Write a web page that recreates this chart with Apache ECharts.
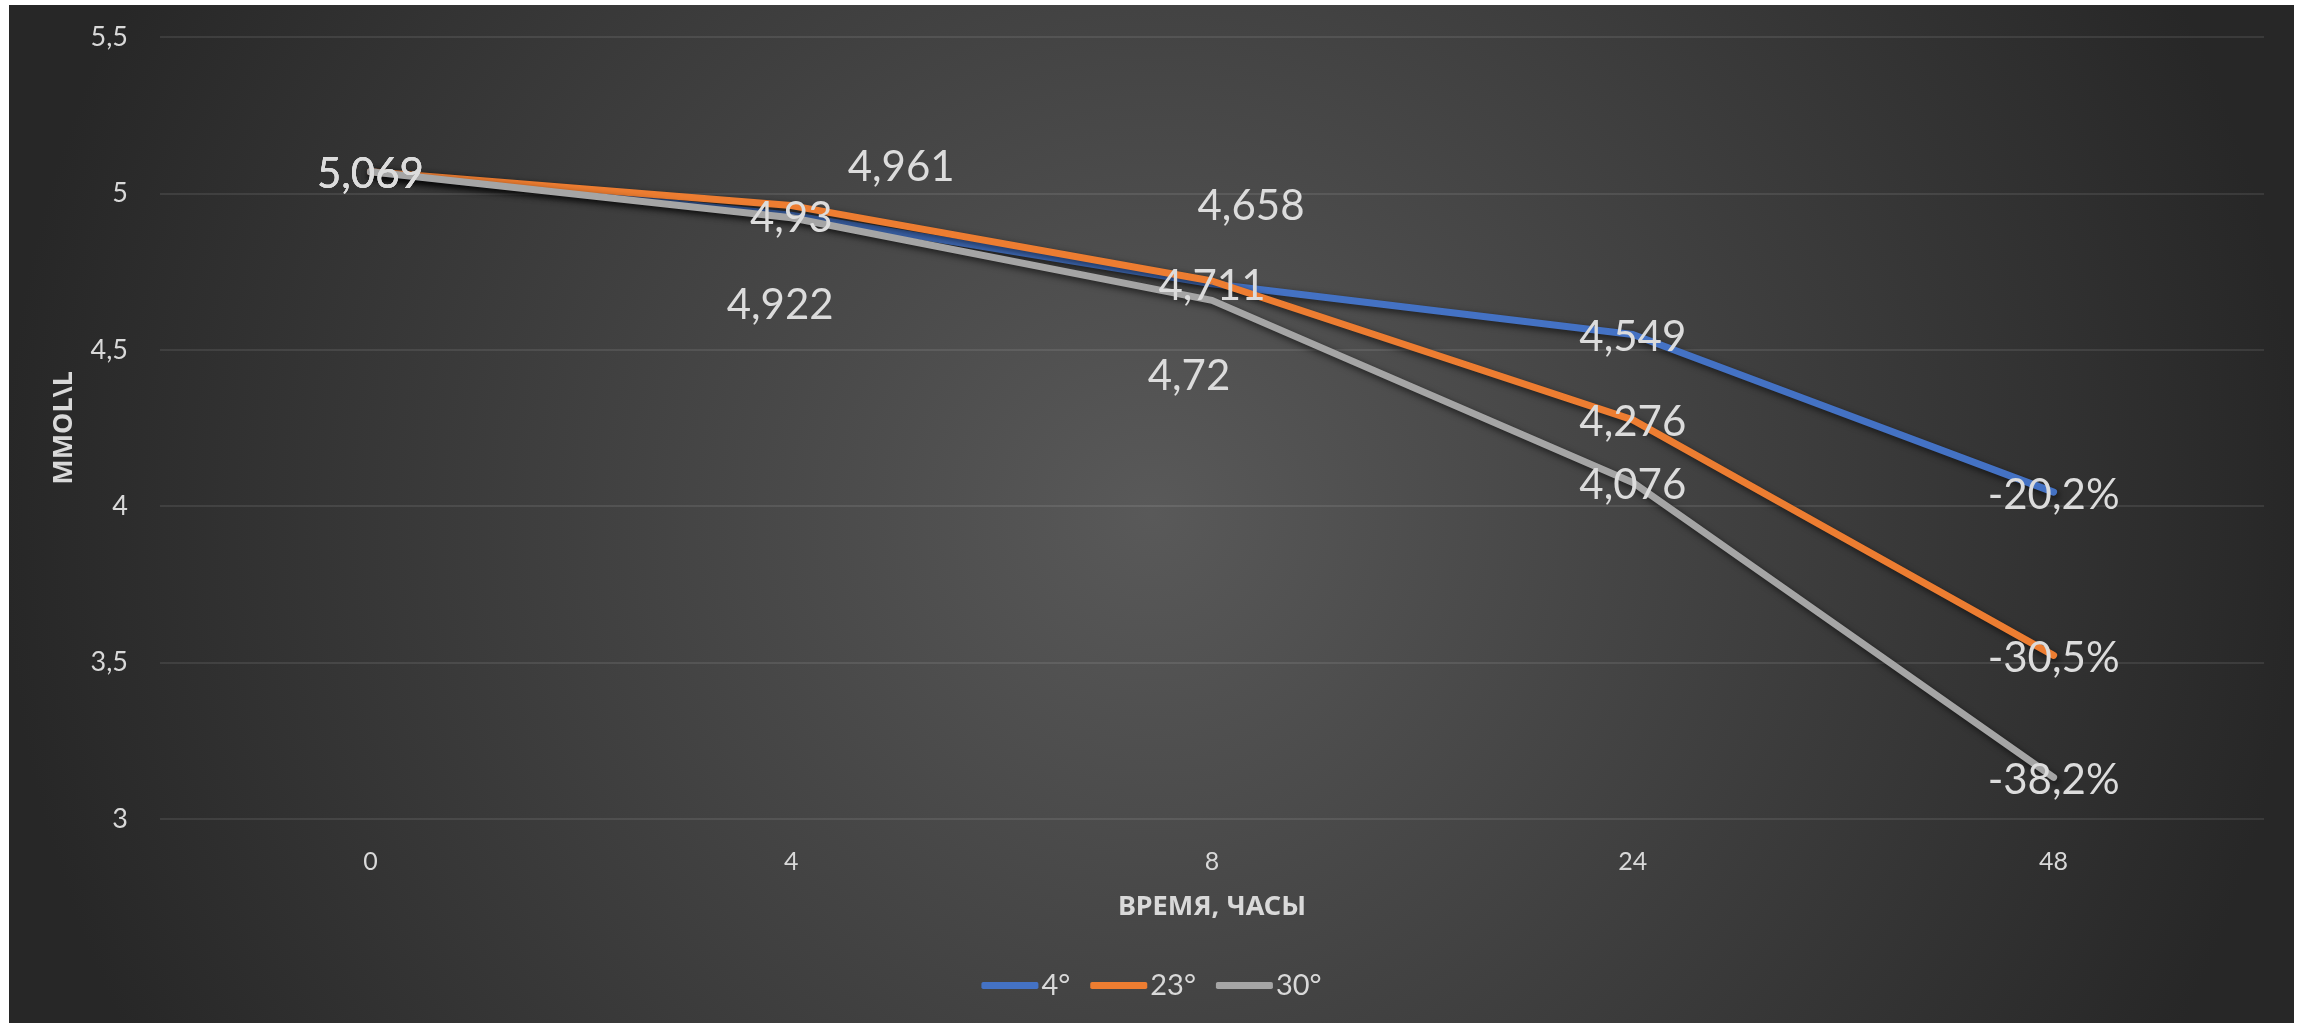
<!DOCTYPE html>
<html>
<head>
<meta charset="utf-8">
<script src="https://cdn.jsdelivr.net/npm/echarts@6/dist/echarts.min.js"></script>
<style>
  html, body { margin: 0; padding: 0; background: #ffffff; width: 2305px; height: 1023px; overflow: hidden; }
  #chart { position: absolute; left: 9px; top: 5px; width: 2285px; height: 1018px; }
</style>
</head>
<body>
<div id="chart"></div>
<script>
// Glucose level (mmol/L) over storage time at three temperatures
const hours = ['0', '4', '8', '24', '48'];
const seriesNames = ['4°', '23°', '30°'];
const temp4 = [5.069, 4.93, 4.711, 4.549, 4.045];
const temp23 = [5.069, 4.961, 4.72, 4.276, 3.523];
const temp30 = [5.069, 4.922, 4.658, 4.076, 3.133];
const colors = ['#4472C4', '#ED7D31', '#A5A5A5'];

// hand-placed label offsets (px) so overlapping labels stay readable
const labelOffsets = [
  [[0, 3], [0, 3], [0, 3], [0, 3], [0, 3]],
  [[0, 3], [110, -38], [-23, 95], [0, 3], [0, 3]],
  [[0, 3], [-11, 88], [39, -94], [0, 3], [0, 3]]
];

const textColor = '#d9d9d9';
const numFont = 'Lato, "Open Sans", sans-serif';
const titleFont = '"Noto Sans", "Open Sans", sans-serif';

function fmtNum(v) { return String(v).replace('.', ','); }

function makeSeries(name, values, color, offsets) {
  const first = values[0];
  const last = values.length - 1;
  return {
    name: name,
    type: 'line',
    symbol: 'circle',
    symbolSize: 1,
    showSymbol: true,
    itemStyle: { color: color },
    lineStyle: {
      color: color, width: 7, cap: 'round', join: 'round',
      shadowColor: 'rgba(0,0,0,0.65)', shadowBlur: 7, shadowOffsetX: 2, shadowOffsetY: 3
    },
    data: values.map(function (v, i) {
      return {
        value: v,
        label: { offset: offsets[i] }
      };
    }),
    label: {
      show: true,
      position: 'inside',
      color: '#dcdcdc',
      fontFamily: numFont,
      fontSize: 42,
      formatter: function (p) {
        if (p.dataIndex === last) {
          const pct = (p.value / first - 1) * 100;
          return pct.toFixed(1).replace('.', ',') + '%';
        }
        return fmtNum(p.value);
      }
    },
    emphasis: { disabled: true },
    z: 2
  };
}

const chart = echarts.init(document.getElementById('chart'), null, { renderer: 'canvas' });
chart.setOption({
  animation: false,
  backgroundColor: {
    type: 'radial', x: 1143, y: 509, r: 1150, global: true,
    colorStops: [
      { offset: 0, color: '#595959' },
      { offset: 1, color: '#272727' }
    ]
  },
  grid: { left: 151, right: 30, top: 32, bottom: 204, containLabel: false },
  legend: {
    data: seriesNames,
    left: 'center',
    top: 961,
    icon: 'roundRect',
    itemWidth: 57,
    itemHeight: 7,
    itemGap: 20,
    textStyle: { color: textColor, fontFamily: numFont, fontSize: 29, padding: [0, 0, 0, -2] }
  },
  xAxis: {
    type: 'category',
    data: hours,
    boundaryGap: true,
    name: 'ВРЕМЯ, ЧАСЫ',
    nameLocation: 'middle',
    nameGap: 75,
    nameTextStyle: { color: textColor, fontFamily: titleFont, fontSize: 27, fontWeight: 'bold' },
    axisLine: { show: false },
    axisTick: { show: false },
    axisLabel: { color: textColor, fontFamily: numFont, fontSize: 25, margin: 30 }
  },
  yAxis: {
    type: 'value',
    min: 3,
    max: 5.5,
    interval: 0.5,
    name: 'MMOL\\L',
    nameLocation: 'middle',
    nameGap: 82,
    nameTextStyle: { color: textColor, fontFamily: titleFont, fontSize: 27, fontWeight: 'bold' },
    axisLine: { show: false },
    axisTick: { show: false },
    axisLabel: {
      color: textColor, fontFamily: numFont, fontSize: 27, margin: 32,
      formatter: function (v) { return fmtNum(v); }
    },
    splitLine: { lineStyle: { color: 'rgba(255,255,255,0.09)', width: 2 } }
  },
  series: [
    makeSeries(seriesNames[0], temp4, colors[0], labelOffsets[0]),
    makeSeries(seriesNames[1], temp23, colors[1], labelOffsets[1]),
    makeSeries(seriesNames[2], temp30, colors[2], labelOffsets[2])
  ]
});
</script>
</body>
</html>
